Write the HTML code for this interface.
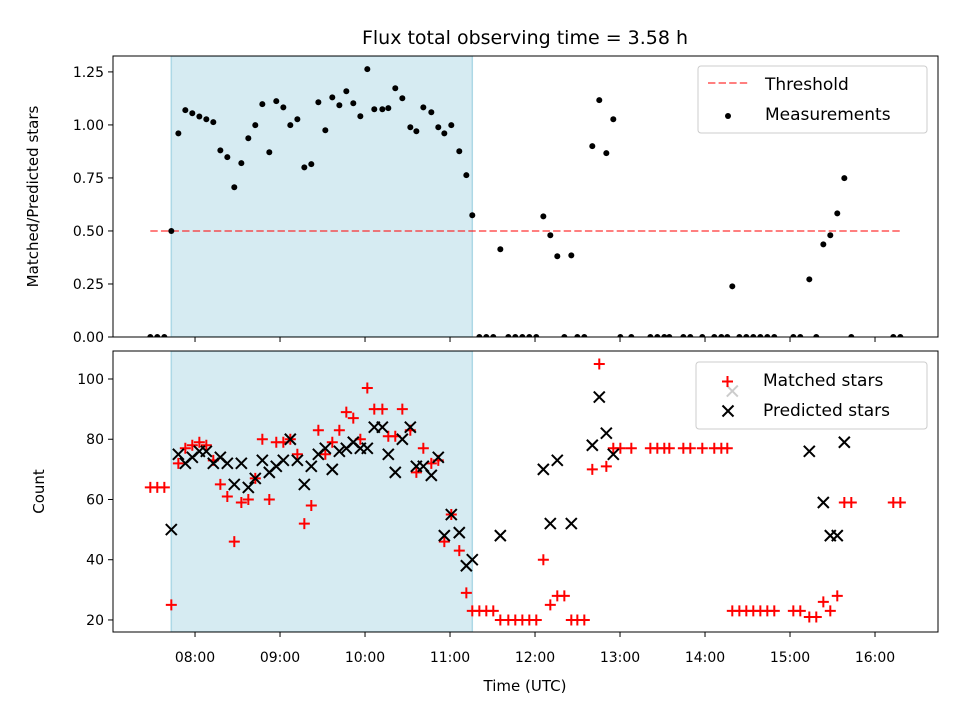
<!DOCTYPE html>
<html><head><meta charset="utf-8"><style>
html,body{margin:0;padding:0;background:#fff;}
svg{display:block;font-family:"DejaVu Sans","Liberation Sans",sans-serif;}
</style></head><body>
<svg id="chart" width="960" height="720" viewBox="0 0 960 720" xmlns="http://www.w3.org/2000/svg"></svg>
<script>
const times = [7.474,7.556,7.639,7.721,7.804,7.886,7.968,8.051,8.133,8.215,8.298,8.38,8.462,8.545,8.627,8.709,8.792,8.874,8.956,9.039,9.121,9.204,9.286,9.368,9.451,9.533,9.615,9.698,9.78,9.862,9.945,10.027,10.109,10.204,10.274,10.356,10.439,10.533,10.604,10.686,10.78,10.862,10.933,11.015,11.109,11.192,11.262,11.345,11.427,11.509,11.592,11.686,11.768,11.851,11.933,12.015,12.098,12.18,12.262,12.345,12.427,12.498,12.58,12.674,12.756,12.839,12.921,13.004,13.133,13.357,13.439,13.521,13.58,13.745,13.827,13.968,14.109,14.192,14.262,14.321,14.404,14.486,14.568,14.651,14.733,14.815,15.039,15.121,15.227,15.309,15.392,15.474,15.556,15.639,15.721,16.215,16.298];
const ratio = [0,0,0,0.5,0.96,1.07,1.055,1.04,1.027,1.013,0.88,0.848,0.706,0.82,0.937,0.999,1.098,0.871,1.112,1.083,0.999,1.027,0.80,0.815,1.107,0.975,1.13,1.093,1.159,1.102,1.041,1.263,1.074,1.074,1.079,1.173,1.126,0.989,0.97,1.083,1.06,0.989,0.96,0.999,0.876,0.763,0.574,0,0,0,0.414,0,0,0,0,0,0.569,0.48,0.381,0,0.385,0,0,0.9,1.117,0.867,1.027,0,0,0,0,0,0,0,0,0,0,0,0,0.239,0,0,0,0,0,0,0,0,0.272,0,0.437,0.48,0.583,0.749,0,0,0];
const matched = [64,64,64,25,72,77,78,79,78,73,65,61,46,59,60,67,80,60,79,79,80,75,52,58,83,75,79,83,89,87,80,97,90,90,81,81,90,83,69,77,72,73,46,55,43,29,23,23,23,23,20,20,20,20,20,20,40,25,28,28,20,20,20,70,105,71,77,77,77,77,77,77,77,77,77,77,77,77,77,23,23,23,23,23,23,23,23,23,21,21,26,23,28,59,59,59,59];
const predicted = [0,0,0,50,75,72,74,76,76,72,74,72,65,72,64,67,73,69,71,73,80,73,65,71,75,77,70,76,77,79,77,77,84,84,75,69,80,84,71,71,68,74,48,55,49,38,40,0,0,0,48,0,0,0,0,0,70,52,73,0,52,0,0,78,94,82,75,0,0,0,0,0,0,0,0,0,0,0,0,96,0,0,0,0,0,0,0,0,76,0,59,48,48,79,0,0,0];
const xTicks = ["08:00","09:00","10:00","11:00","12:00","13:00","14:00","15:00","16:00"];
const topTicks = [0,0.25,0.5,0.75,1.0,1.25];
const botTicks = [20,40,60,80,100];
const threshold = 0.5;
const spanStart = 7.721, spanEnd = 11.262;

const NS="http://www.w3.org/2000/svg";
const svg=document.getElementById('chart');
function mk(tag,attrs,parent){const e=document.createElementNS(NS,tag);for(const k in attrs)e.setAttribute(k,attrs[k]);(parent||svg).appendChild(e);return e;}
const L=113,R=938;
const xMin=7.035,xMax=16.741;
const X=h=>L+(h-xMin)/(xMax-xMin)*(R-L);
const T1=56,B1=337,T2=351,B2=632;
const Y1=v=>B1-(v-0)/(1.325)*(B1-T1);
const Y2=v=>B2-(v-16.0)/(109.3-16.0)*(B2-T2);

const defs=mk('defs',{});
const c1=mk('clipPath',{id:'c1'},defs);mk('rect',{x:L,y:T1,width:R-L,height:B1-T1},c1);
const c2=mk('clipPath',{id:'c2'},defs);mk('rect',{x:L,y:T2,width:R-L,height:B2-T2},c2);

let t=mk('text',{x:525,y:44,'text-anchor':'middle','font-size':'19'});t.textContent='Flux total observing time = 3.58 h';



function panel(top,bot,clip,name){
  const g=mk('g',{'clip-path':'url(#'+clip+')'});
  
  
  const s=mk('rect',{x:X(spanStart),y:top,width:X(spanEnd)-X(spanStart),height:bot-top,fill:'#add8e6','fill-opacity':'0.5',stroke:'#add8e6','stroke-width':1.5},g);
  
  
  return g;
}
const g1=panel(T1,B1,'c1','top');
const g2=panel(T2,B2,'c2','bottom');

const tmin=Math.min(...times),tmax=Math.max(...times);
const th=mk('line',{x1:X(tmin),x2:X(tmax),y1:Y1(threshold),y2:Y1(threshold),stroke:'#ff0000','stroke-opacity':'0.5','stroke-width':2,'stroke-dasharray':'7.4,3.2'},g1);



times.forEach((h,i)=>{
  const c=mk('circle',{cx:X(h),cy:Y1(ratio[i]),r:3,fill:'#000'},g1);
  
  
});
times.forEach((h,i)=>{
  const x=X(h),y=Y2(matched[i]),s=5.5;
  const p=mk('path',{d:`M${x-s},${y}H${x+s}M${x},${y-s}V${y+s}`,stroke:'#ff0000','stroke-width':2,fill:'none'},g2);
  
  
});
times.forEach((h,i)=>{
  const x=X(h),y=Y2(predicted[i]),s=5.5;
  const p=mk('path',{d:`M${x-s},${y-s}L${x+s},${y+s}M${x-s},${y+s}L${x+s},${y-s}`,stroke:'#000','stroke-width':2,fill:'none'},g2);
  
  
});

function frame(top,bot,name){
  const r=mk('rect',{x:L,y:top,width:R-L,height:bot-top,fill:'none',stroke:'#000','stroke-width':1});
  
  
  xTicks.forEach((lab,i)=>{
    const x=X(8+i);
    mk('line',{x1:x,x2:x,y1:bot,y2:bot+5,stroke:'#000','stroke-width':1});
  });
}
frame(T1,B1,'top');frame(T2,B2,'bottom');
xTicks.forEach((lab,i)=>{
  const tx=mk('text',{x:X(8+i),y:B2+30,'text-anchor':'middle','font-size':'14'});tx.textContent=lab;
  
  
});
topTicks.forEach(v=>{
  const y=Y1(v);mk('line',{x1:L-5,x2:L,y1:y,y2:y,stroke:'#000'});
  const tx=mk('text',{x:L-9,y:y+5,'text-anchor':'end','font-size':'14'});tx.textContent=v.toFixed(2);
  
  
});
botTicks.forEach(v=>{
  const y=Y2(v);mk('line',{x1:L-5,x2:L,y1:y,y2:y,stroke:'#000'});
  const tx=mk('text',{x:L-9,y:y+5,'text-anchor':'end','font-size':'14'});tx.textContent=v;
  
  
});
t=mk('text',{x:525,y:691,'text-anchor':'middle','font-size':'15'});t.textContent='Time (UTC)';


t=mk('text',{x:0,y:0,'text-anchor':'middle','font-size':'15',transform:`translate(38,${(T1+B1)/2}) rotate(-90)`});t.textContent='Matched/Predicted stars';


t=mk('text',{x:0,y:0,'text-anchor':'middle','font-size':'15',transform:`translate(44,${(T2+B2)/2}) rotate(-90)`});t.textContent='Count';



let lg=mk('g',{});


mk('rect',{x:698,y:66,width:229,height:67,rx:3,fill:'#fff','fill-opacity':'0.8',stroke:'#ccc'},lg);
mk('line',{x1:708,x2:748,y1:83,y2:83,stroke:'#ff0000','stroke-opacity':'0.5','stroke-width':2,'stroke-dasharray':'7.4,3.2'},lg);
mk('circle',{cx:728,cy:116,r:3,fill:'#000'},lg);
t=mk('text',{x:765,y:90,'font-size':'17'},lg);t.textContent='Threshold';
t=mk('text',{x:765,y:120,'font-size':'17'},lg);t.textContent='Measurements';

lg=mk('g',{});


mk('rect',{x:696,y:362,width:231,height:67,rx:3,fill:'#fff','fill-opacity':'0.8',stroke:'#ccc'},lg);
mk('path',{d:'M722,381.5H733M727.5,376V387',stroke:'#ff0000','stroke-width':2},lg);
mk('path',{d:'M722.5,405.5L733.5,416.5M722.5,416.5L733.5,405.5',stroke:'#000','stroke-width':2},lg);
t=mk('text',{x:763,y:386,'font-size':'17'},lg);t.textContent='Matched stars';
t=mk('text',{x:763,y:416,'font-size':'17'},lg);t.textContent='Predicted stars';
</script>
</body></html>
